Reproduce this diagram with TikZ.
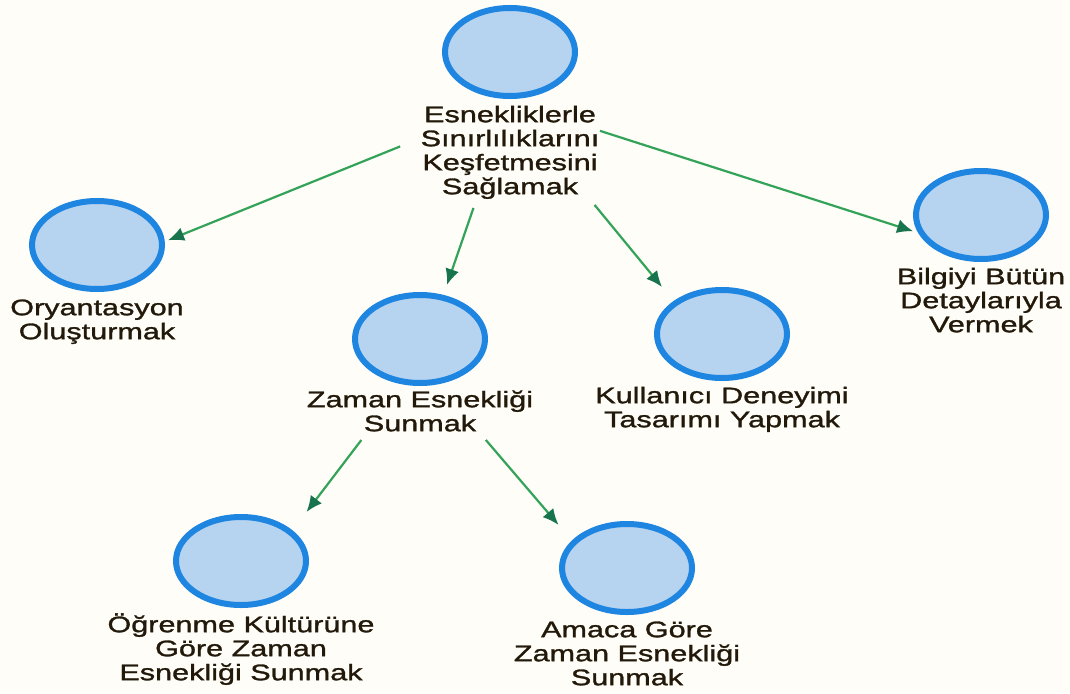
\documentclass[tikz,border=0pt]{standalone}
\usepackage{fontspec}
\setmainfont{Liberation Sans}
\newfontfamily\lblfont[FakeStretch=1.36,FakeBold=1.3]{Liberation Sans}
\usetikzlibrary{shapes.geometric,calc,arrows.meta}
\definecolor{paper}{HTML}{FEFDF7}
\definecolor{bubblefill}{HTML}{B6D3F0}
\definecolor{bubbleline}{HTML}{1E85E0}
\definecolor{linkline}{HTML}{34A35A}
\definecolor{linktip}{HTML}{17744C}
\definecolor{labeltext}{HTML}{22190A}
\newcommand{\firstline}{\rule{0pt}{21pt}}
\tikzset{
  bubble/.style={ellipse, draw=bubbleline, fill=bubblefill, line width=6pt,
    inner sep=0pt, minimum width=130pt, minimum height=88pt},
  caption/.style={anchor=north, inner sep=0pt, align=center, text=labeltext,
    font=\lblfont\fontsize{22.5}{24}\selectfont},
  link/.style={draw=linkline, line width=2.2pt,
    -{Latex[length=16pt,width=14pt,fill=linktip,color=linktip]}}
}
\begin{document}
\begin{tikzpicture}[x=1pt,y=-1pt]
  \fill[paper] (0,0) rectangle (1070,693);
  \useasboundingbox (0,0) rectangle (1070,693);

  % bubbles
  \node[bubble] (a) at (510,52) {};
  \node[bubble] (b) at (97,245) {};
  \node[bubble] (c) at (981,215) {};
  \node[bubble] (d) at (420,339) {};
  \node[bubble] (e) at (722,334) {};
  \node[bubble] (f) at (241,561) {};
  \node[bubble] (g) at (627,568) {};

  % captions (north = first baseline - 21)
  \node[caption] (al) at (510,101) {\firstline Esnekliklerle\\Sınırlılıklarını\\Keşfetmesini\\Sağlamak};
  \node[caption] (bl) at (97,294) {\firstline Oryantasyon\\Oluşturmak};
  \node[caption] (cl) at (981,263) {\firstline Bilgiyi Bütün\\Detaylarıyla\\Vermek};
  \node[caption] (dl) at (420,386) {\firstline Zaman Esnekliği\\Sunmak};
  \node[caption] (el) at (722,382) {\firstline Kullanıcı Deneyimi\\Tasarımı Yapmak};
  \node[caption] (fl) at (241,611) {\firstline Öğrenme Kültürüne\\Göre Zaman\\Esnekliği Sunmak};
  \node[caption] (gl) at (627,616) {\firstline Amaca Göre\\Zaman Esnekliği\\Sunmak};

  % centres of each bubble together with its caption
  \coordinate (ga) at (510,102);
  \coordinate (gb) at (97,269);
  \coordinate (gc) at (981,253);
  \coordinate (gd) at (420,363);
  \coordinate (ge) at (722,360);
  \coordinate (gf) at (241,598);
  \coordinate (gg) at (627,605);

  % connectors
  \draw[link] ($(ga)!0.266!(gb)$) -- ($(ga)!0.828!(gb)$);
  \draw[link] ($(ga)!0.191!(gc)$) -- ($(ga)!0.856!(gc)$);
  \draw[link] ($(ga)!0.406!(gd)$) -- ($(ga)!0.701!(gd)$);
  \draw[link] ($(ga)!0.399!(ge)$) -- ($(ga)!0.717!(ge)$);
  \draw[link] ($(gd)!0.328!(gf)$) -- ($(gd)!0.634!(gf)$);
  \draw[link] ($(gd)!0.318!(gg)$) -- ($(gd)!0.669!(gg)$);
\end{tikzpicture}
\end{document}
